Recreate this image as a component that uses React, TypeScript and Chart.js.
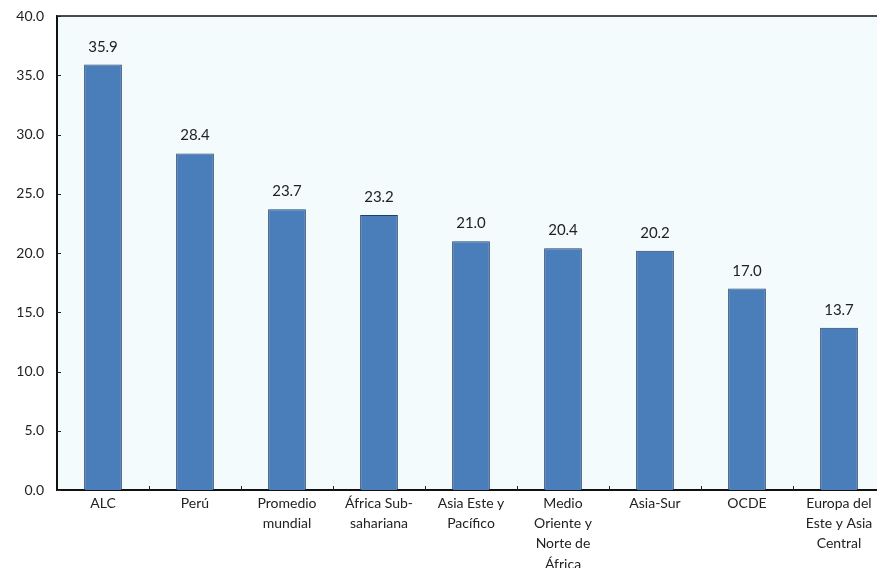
import React, { useEffect, useRef } from "react";
import { Chart, registerables } from "chart.js";

Chart.register(...registerables);

// Regions and their values
const categories: (string | string[])[] = [
  "ALC",
  "Perú",
  ["Promedio", "mundial"],
  ["África Sub-", "sahariana"],
  ["Asia Este y", "Pacífico"],
  ["Medio", "Oriente y", "Norte de", "África"],
  "Asia-Sur",
  "OCDE",
  ["Europa del", "Este y Asia", "Central"],
];
const values = [35.9, 28.4, 23.7, 23.2, 21.0, 20.4, 20.2, 17.0, 13.7];
const yTickValues = [0, 5, 10, 15, 20, 25, 30, 35, 40];

const FONT = "Lato, 'Open Sans', sans-serif";
const TEXT = "#222222";

// Plot background, frame line on top, inside tick marks and value labels
const decorations = {
  id: "decorations",
  beforeDraw(chart: any) {
    const { ctx, chartArea } = chart;
    ctx.save();
    ctx.fillStyle = "#f4fbfd";
    ctx.fillRect(chartArea.left, chartArea.top, chartArea.right - chartArea.left, chartArea.bottom - chartArea.top);
    ctx.restore();
  },
  afterDatasetsDraw(chart: any) {
    const { ctx, chartArea, scales } = chart;
    const x = scales.x;
    const y = scales.y;
    ctx.save();
    // top frame line
    ctx.strokeStyle = "#4a4a4a";
    ctx.lineWidth = 2;
    ctx.beginPath();
    ctx.moveTo(chartArea.left, chartArea.top);
    ctx.lineTo(chartArea.right, chartArea.top);
    ctx.stroke();

    // inward tick marks
    ctx.strokeStyle = "#222";
    ctx.lineWidth = 1;
    ctx.beginPath();
    yTickValues.forEach((v) => {
      const py = Math.round(y.getPixelForValue(v)) + 0.5;
      ctx.moveTo(chartArea.left, py);
      ctx.lineTo(chartArea.left + 4, py);
    });
    for (let i = 1; i < categories.length; i++) {
      const px = Math.round((x.getPixelForValue(i - 1) + x.getPixelForValue(i)) / 2) + 0.5;
      ctx.moveTo(px, chartArea.bottom);
      ctx.lineTo(px, chartArea.bottom - 4);
    }
    ctx.stroke();

    // value labels
    const meta = chart.getDatasetMeta(0);
    ctx.fillStyle = TEXT;
    ctx.font = `15px ${FONT}`;
    ctx.textAlign = "center";
    ctx.textBaseline = "alphabetic";
    meta.data.forEach((bar: any, i: number) => {
      ctx.fillText(values[i].toFixed(1), bar.x, bar.y - 13);
    });
    ctx.restore();
  },
};

export default function App() {
  const canvasRef = useRef<HTMLCanvasElement | null>(null);

  useEffect(() => {
    const canvas = canvasRef.current;
    if (!canvas) return;
    const chart = new Chart(canvas, {
      type: "bar",
      data: {
        labels: categories,
        datasets: [
          {
            data: values,
            backgroundColor: "#4a7ebb",
            borderColor: "#213e66",
            borderWidth: 1,
            barPercentage: 0.41,
            categoryPercentage: 1,
          },
        ],
      },
      options: {
        responsive: false,
        animation: false,
        devicePixelRatio: 1,
        layout: { padding: { top: 16, left: 0, right: 0, bottom: 0 } },
        plugins: {
          legend: { display: false },
          tooltip: { enabled: false },
        },
        scales: {
          x: {
            offset: true,
            grid: { display: false, drawTicks: false },
            border: { display: true, color: "#111", width: 2 },
            ticks: {
              color: TEXT,
              font: { family: FONT, size: 14, lineHeight: 1.45 },
              padding: 3,
              maxRotation: 0,
              autoSkip: false,
            },
            afterFit(scale: any) {
              scale.height = 78;
              scale.paddingLeft = 0;
              scale.paddingRight = 0;
              scale.paddingTop = 0;
              scale.paddingBottom = 0;
            },
          },
          y: {
            min: 0,
            max: 40,
            afterBuildTicks(scale: any) {
              scale.ticks = yTickValues.map((v) => ({ value: v }));
            },
            grid: { display: false, drawTicks: false },
            border: { display: true, color: "#111", width: 2 },
            ticks: {
              color: TEXT,
              font: { family: FONT, size: 14 },
              padding: 13,
              callback: (v: any) => Number(v).toFixed(1),
            },
            afterFit(scale: any) {
              scale.width = 57;
              scale.paddingTop = 0;
              scale.paddingBottom = 0;
            },
          },
        },
      },
      plugins: [decorations],
    });
    return () => chart.destroy();
  }, []);

  return (
    <div
      style={{
        position: "fixed",
        left: 0,
        top: 0,
        width: 877,
        height: 568,
        overflow: "hidden",
        background: "#ffffff",
      }}
    >
      <canvas ref={canvasRef} width={885} height={568} style={{ display: "block" }} />
    </div>
  );
}
